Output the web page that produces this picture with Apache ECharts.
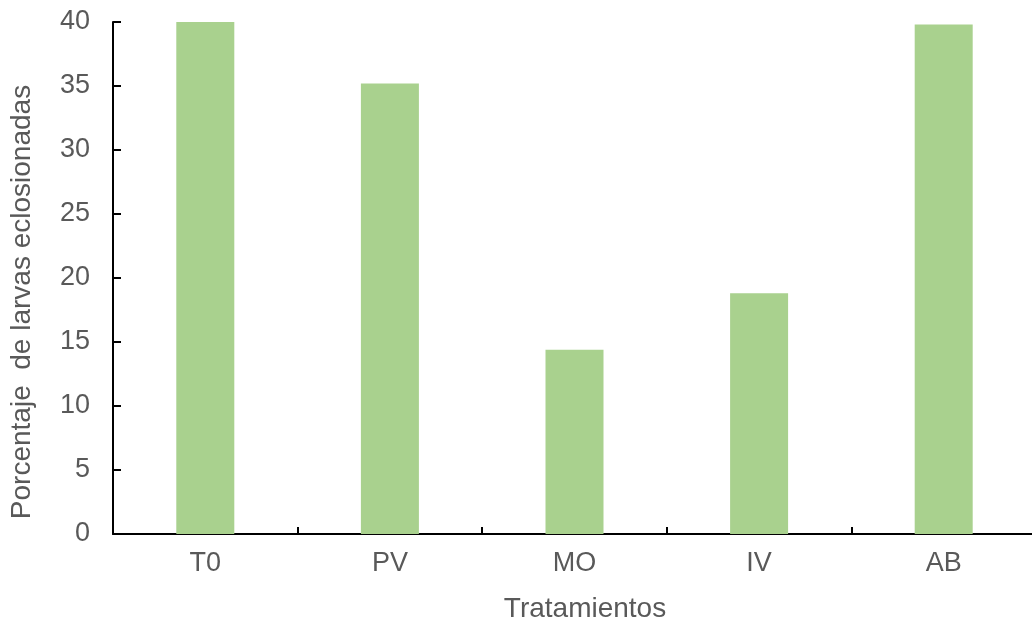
<!DOCTYPE html>
<html>
<head>
<meta charset="utf-8">
<script src="https://cdn.jsdelivr.net/npm/echarts@6/dist/echarts.min.js"></script>
<style>
html,body{margin:0;padding:0;background:#fff;}
#chart{width:1032px;height:624px;}
</style>
</head>
<body>
<div id="chart"></div>
<script>
var categories = ['T0', 'PV', 'MO', 'IV', 'AB'];
var values = [40.0, 35.2, 14.4, 18.8, 39.8];
var yTicks = [0, 5, 10, 15, 20, 25, 30, 35, 40];
var xTitle = 'Tratamientos';
var yTitle = 'Porcentaje  de larvas eclosionadas';

var chart = echarts.init(document.getElementById('chart'));
var font = 'Arial, "Liberation Sans", sans-serif';
chart.setOption({
  animation: false,
  grid: { left: 113, top: 22, height: 512, width: 923, containLabel: false, outerBoundsMode: 'none' },
  xAxis: {
    type: 'category',
    data: categories,
    axisLine: { lineStyle: { color: '#000', width: 2 } },
    axisTick: { show: true, inside: true, length: 7, lineStyle: { color: '#000', width: 2 } },
    axisLabel: { color: '#595959', fontSize: 27, fontFamily: font, margin: 16 },
    splitLine: { show: false }
  },
  yAxis: {
    type: 'value',
    min: yTicks[0],
    max: yTicks[yTicks.length - 1],
    interval: yTicks[1] - yTicks[0],
    axisLine: { show: true, lineStyle: { color: '#000', width: 2 } },
    axisTick: { show: true, inside: true, length: 8, lineStyle: { color: '#000', width: 2 } },
    axisLabel: { color: '#595959', fontSize: 27, fontFamily: font, margin: 23 },
    splitLine: { show: false }
  },
  graphic: [
    {
      type: 'text',
      x: 585, y: 609,
      style: { text: xTitle, fill: '#595959', font: '28px ' + font, textAlign: 'center', textVerticalAlign: 'middle' }
    },
    {
      type: 'text',
      x: 22, y: 302,
      rotation: Math.PI / 2,
      style: { text: yTitle, fill: '#595959', font: '28px ' + font, textAlign: 'center', textVerticalAlign: 'middle' }
    }
  ],
  series: [{
    type: 'bar',
    data: values,
    barWidth: 58,
    itemStyle: { color: '#A9D18E' }
  }]
});
</script>
</body>
</html>
